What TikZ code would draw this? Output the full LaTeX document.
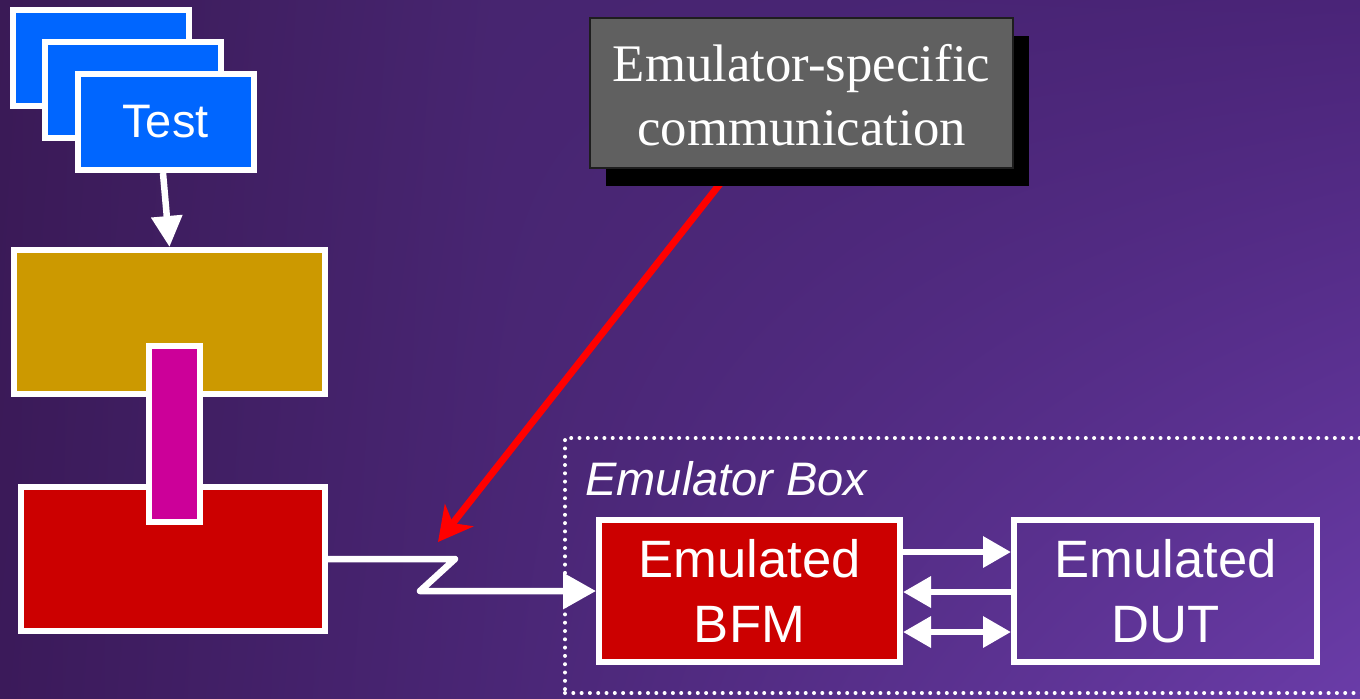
\documentclass[tikz,border=0pt]{standalone}
\usepackage{fontspec}
\setmainfont{Liberation Sans}
\newfontfamily\serifx{Liberation Serif}
\usetikzlibrary{arrows.meta,shadows,shadings}

\definecolor{bgTL}{HTML}{3A1A56}
\definecolor{bgTM}{HTML}{472570}
\definecolor{bgTR}{HTML}{4A2478}
\definecolor{bgBL}{HTML}{3B1A5A}
\definecolor{bgBM}{HTML}{4A2676}
\definecolor{bgBR}{HTML}{6A3CA8}
\definecolor{testblue}{HTML}{0066FF}
\definecolor{goldbox}{HTML}{CC9900}
\definecolor{magbox}{HTML}{CC0099}
\definecolor{redbox}{HTML}{CC0000}
\definecolor{greybox}{HTML}{606060}
\definecolor{greyedge}{HTML}{1E1E1E}
\definecolor{hotred}{HTML}{FF0000}

\tikzset{
  wbox/.style={draw=white, line width=3pt, rectangle, inner sep=0pt, text=white},
  wline/.style={draw=white, line width=3.25pt},
  bighead/.style={-{Triangle[length=16.5pt,width=17.5pt]}},
  midhead/.style={-{Triangle[length=15.5pt,width=15pt]}},
  smallhead/.style={-{Triangle[length=14pt,width=15pt]}},
  boxfont/.style={font=\fontsize{26.3}{32.5}\selectfont, align=center},
  dots/.style={draw=white, line width=2pt, line cap=round, dash pattern=on 0pt off 4.15pt},
}

\begin{document}
\begin{tikzpicture}[x=0.5pt, y=-0.5pt]
  \useasboundingbox (0,0) rectangle (1360,698);
  \clip (0,0) rectangle (1360,698);

  % purple background, darker on the left, lighter towards the lower right
  \shade[upper left=bgTL, upper right=bgTM, lower left=bgBL, lower right=bgBM]
    (0,0) rectangle (500,698);
  \shade[upper left=bgTM, upper right=bgTR, lower left=bgBM, lower right=bgBR]
    (500,0) rectangle (1360,698);

  % stack of test cards
  \node[wbox, fill=testblue, minimum width=88pt, minimum height=48pt] (t1) at (101,58) {};
  \node[wbox, fill=testblue, minimum width=88pt, minimum height=48pt] (t2) at (133,90) {};
  \node[wbox, fill=testblue, minimum width=88pt, minimum height=48pt,
        font=\fontsize{23.5}{28}\selectfont] (test) at (165.5,122) {Test};

  % testbench blocks
  \node[wbox, fill=goldbox, minimum width=155.5pt, minimum height=72pt] (gold) at (169.5,322) {};
  \node[wbox, fill=redbox, minimum width=152pt, minimum height=72pt] (red) at (173,559) {};
  \node[wbox, fill=magbox, minimum width=25.5pt, minimum height=88pt] (mag) at (174.5,434) {};

  \draw[wline, midhead] ([xshift=-1.25pt]test.south) -- (gold.north);

  % emulator box
  \node[dots, rectangle, inner sep=0pt, minimum width=427.5pt, minimum height=127.5pt]
    (emubox) at (992.5,565.5) {};
  \node[anchor=base west, inner sep=0pt, text=white,
        font=\itshape\fontsize{23.5}{28}\selectfont] (emulabel) at (585,495) {Emulator Box};

  \node[wbox, fill=redbox, minimum width=150.5pt, minimum height=71pt, boxfont]
    (bfm) at (749.5,591) {Emulated\\BFM};
  \node[wbox, minimum width=151.5pt, minimum height=71pt, boxfont]
    (dut) at (1165.5,591) {Emulated\\DUT};

  \draw[wline, smallhead] ([yshift=19.5pt]bfm.east) -- ([yshift=19.5pt]dut.west);
  \draw[wline, smallhead] ([yshift=-0.5pt]dut.west) -- ([yshift=-0.5pt]bfm.east);
  \draw[wline, {Triangle[length=14pt,width=15pt]}-{Triangle[length=14pt,width=15pt]}]
    ([yshift=-20.5pt]bfm.east) -- ([yshift=-20.5pt]dut.west);

  % link from the testbench into the emulator
  \coordinate (z1) at (455,559);
  \coordinate (z2) at (420,591);
  \draw[wline, line join=round, line cap=round, bighead]
    (red.east) -- (z1) -- (z2) -- (bfm.west);

  % emulator-specific communication callout
  \coordinate (rs) at (723,180);
  \coordinate (hit) at (438,542);
  \draw[draw=hotred, line width=3.5pt, -{Stealth[length=17pt,width=18pt,inset=5pt]}]
    (rs) -- (hit);

  \node[rectangle, fill=greybox, draw=greyedge, line width=0.75pt, inner sep=0pt,
        minimum width=211.5pt, minimum height=75pt,
        drop shadow={shadow xshift=8pt, shadow yshift=-9pt, fill=black, opacity=1}]
    (comm) at (801.5,93) {};
  \node[text=white, align=center, inner sep=0pt,
        font=\serifx\fontsize{26.4}{32}\selectfont]
    (commtext) at ([yshift=-1.25pt]comm.center) {Emulator-specific\\communication};
\end{tikzpicture}
\end{document}
